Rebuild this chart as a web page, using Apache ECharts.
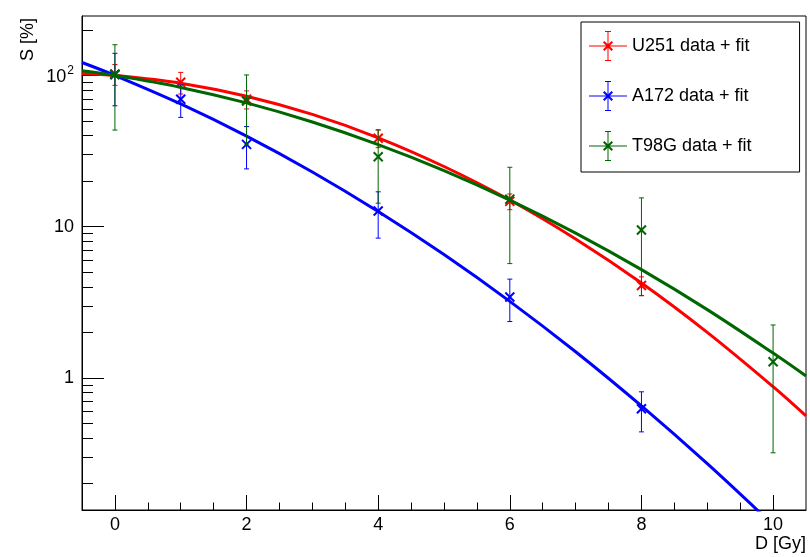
<!DOCTYPE html>
<html>
<head>
<meta charset="utf-8">
<script src="https://cdn.jsdelivr.net/npm/echarts@6/dist/echarts.min.js"></script>
<style>html,body{margin:0;padding:0;background:#fff;}#c{width:810px;height:557px;}</style>
</head>
<body>
<div id="c"></div>
<script>
// ---- axis ticks ----
const xTickLabels = [0, 2, 4, 6, 8, 10];
const xMinorTicks = [0, 0.5, 1, 1.5, 2, 2.5, 3, 3.5, 4, 4.5, 5, 5.5, 6, 6.5, 7, 7.5, 8, 8.5, 9, 9.5, 10];
const yMajorTicks = [1, 10, 100];
const yMinorTicks = [0.2, 0.3, 0.4, 0.5, 0.6, 0.7, 0.8, 0.9, 2, 3, 4, 5, 6, 7, 8, 9, 20, 30, 40, 50, 60, 70, 80, 90, 200];

// ---- data points (dose, survival %, error) ----
const u251Dose = [0, 1, 2, 4, 6, 8];
const u251S    = [102, 90, 69.5, 38.4, 14.7, 4.08];
const u251Err  = [16, 14.7, 9.5, 5.1, 1.75, 0.58];

const a172Dose = [0, 1, 2, 4, 6, 8];
const a172S    = [101.5, 69.6, 35, 12.7, 3.43, 0.625];
const a172Err  = [38.5, 16.8, 10.9, 4.3, 1.07, 0.185];

const t98gDose = [0, 2, 4, 6, 8, 10];
const t98gS    = [101.5, 67.7, 29, 15.2, 9.5, 1.28];
const t98gErr  = [58, 33, 14.7, 9.5, 6, 0.96];

// ---- fit curves ----
const fitDose = [-0.5, 0, 1, 2, 3, 4, 5, 6, 7, 8, 9, 10, 10.5];
const u251Fit = [103.1, 100, 88.8, 72.8, 55.2, 38.7, 25.0, 15.0, 8.29, 4.24, 2.00, 0.875, 0.561];
const a172Fit = [121.7, 100, 64.8, 39.7, 23.0, 12.6, 6.54, 3.21, 1.49, 0.653, 0.271, 0.1066, 0.0655];
const t98gFit = [107.4, 100, 83.3, 65.8, 49.2, 34.9, 23.5, 15.0, 9.07, 5.20, 2.83, 1.46, 1.03];

const names = ['U251 data + fit', 'A172 data + fit', 'T98G data + fit'];
const colors = ['#ff0000', '#0000ff', '#006600'];
const FONT = 'Liberation Sans, Arial, Helvetica, sans-serif';

function pts(d, s, e) { return d.map((x, i) => [x, s[i], s[i] - e[i], s[i] + e[i]]); }
function curve(d, v) { return d.map((x, i) => [x, v[i]]); }

function errRender(color) {
  return function (params, api) {
    const x = api.value(0), y = api.value(1), lo = api.value(2), hi = api.value(3);
    const p = api.coord([x, y]);
    const pl = api.coord([x, lo]);
    const ph = api.coord([x, hi]);
    const c = 2.5, m = 4.5;
    const thin = { stroke: color, lineWidth: 1 };
    const thick = { stroke: color, lineWidth: 2 };
    return {
      type: 'group',
      children: [
        { type: 'line', shape: { x1: p[0], y1: ph[1], x2: p[0], y2: pl[1] }, style: thin },
        { type: 'line', shape: { x1: p[0] - c, y1: ph[1], x2: p[0] + c, y2: ph[1] }, style: thin },
        { type: 'line', shape: { x1: p[0] - c, y1: pl[1], x2: p[0] + c, y2: pl[1] }, style: thin },
        { type: 'line', shape: { x1: p[0] - m, y1: p[1] - m, x2: p[0] + m, y2: p[1] + m }, style: thick },
        { type: 'line', shape: { x1: p[0] - m, y1: p[1] + m, x2: p[0] + m, y2: p[1] - m }, style: thick }
      ]
    };
  };
}

const legendIcon = 'path://' +
  'M0 14.5L38 14.5L38 15.5L0 15.5Z' +
  'M18.5 0L19.5 0L19.5 30L18.5 30Z' +
  'M16 0L22 0L22 1L16 1Z' +
  'M16 29L22 29L22 30L16 30Z' +
  'M14 11.4L15.4 10L24 18.6L22.6 20Z' +
  'M22.6 10L24 11.4L15.4 20L14 18.6Z';

const dataSets = [
  [u251Dose, u251S, u251Err, u251Fit],
  [a172Dose, a172S, a172Err, a172Fit],
  [t98gDose, t98gS, t98gErr, t98gFit]
];

const series = [];
dataSets.forEach((ds, i) => {
  series.push({
    type: 'custom', name: names[i], xAxisIndex: 0, yAxisIndex: 0,
    itemStyle: { color: colors[i] },
    renderItem: errRender(colors[i]),
    data: pts(ds[0], ds[1], ds[2]),
    z: 3 + i * 2
  });
  series.push({
    type: 'line', name: names[i], xAxisIndex: 0, yAxisIndex: 0,
    data: curve(fitDose, ds[3]),
    smooth: 0.35, showSymbol: false, clip: true,
    lineStyle: { color: colors[i], width: 3 },
    itemStyle: { color: colors[i] },
    z: 4 + i * 2
  });
});

function yLabel(v) {
  if (Math.abs(v - 100) < 1e-6) return '{n|10}{s|2}';
  return '{n|' + v + '}';
}

const option = {
  animation: false,
  backgroundColor: '#fff',
  grid: { left: 82, right: 4, top: 16, bottom: 47, show: true, borderColor: '#000', borderWidth: 1, backgroundColor: 'transparent' },
  xAxis: [
    {
      type: 'value', min: -0.5, max: 10.5, position: 'bottom',
      axisLine: { show: true, onZero: false, lineStyle: { color: '#000', width: 1 } },
      axisTick: { show: true, inside: true, length: 15, customValues: xTickLabels, lineStyle: { color: '#000', width: 1 } },
      axisLabel: { show: true, customValues: xTickLabels, margin: 6, color: '#000', fontSize: 18, fontFamily: FONT },
      splitLine: { show: false }
    },
    {
      type: 'value', min: -0.5, max: 10.5, position: 'bottom', gridIndex: 0,
      axisLine: { show: false, onZero: false },
      axisTick: { show: true, inside: true, length: 7.5, customValues: xMinorTicks, lineStyle: { color: '#000', width: 1 } },
      axisLabel: { show: false },
      splitLine: { show: false }
    }
  ],
  yAxis: [
    {
      type: 'log', logBase: 10, min: 0.134, max: 247, position: 'left',
      axisLine: { show: true, onZero: false, lineStyle: { color: '#000', width: 1 } },
      axisTick: { show: true, inside: true, length: 22, customValues: yMajorTicks, lineStyle: { color: '#000', width: 1 } },
      axisLabel: {
        show: true, customValues: yMajorTicks, margin: 8, color: '#000', fontSize: 18, fontFamily: FONT,
        formatter: yLabel,
        rich: {
          n: { fontSize: 18, fontFamily: FONT, color: '#000', verticalAlign: 'bottom' },
          s: { fontSize: 12, fontFamily: FONT, color: '#000', verticalAlign: 'bottom', padding: [0, 0, 9, 1] }
        }
      },
      splitLine: { show: false }
    },
    {
      type: 'log', logBase: 10, min: 0.134, max: 247, position: 'left', gridIndex: 0,
      axisLine: { show: false, onZero: false },
      axisTick: { show: true, inside: true, length: 11, customValues: yMinorTicks, lineStyle: { color: '#000', width: 1 } },
      axisLabel: { show: false },
      splitLine: { show: false }
    }
  ],
  legend: {
    orient: 'vertical', left: 581, top: 22,
    padding: [9, 48, 11, 8], itemGap: 20,
    itemWidth: 38, itemHeight: 30,
    borderColor: '#000', borderWidth: 1, backgroundColor: '#fff',
    textStyle: { color: '#000', fontSize: 18, fontFamily: FONT },
    itemStyle: { borderWidth: 0 },
    selectedMode: false,
    data: names.map(n => ({ name: n, icon: legendIcon }))
  },
  graphic: [
    { type: 'text', x: 19, y: 18, rotation: Math.PI / 2, style: { text: 'S [%]', font: '18px ' + FONT, fill: '#000', align: 'right', verticalAlign: 'top' } },
    { type: 'text', x: 806, y: 544, style: { text: 'D [Gy]', font: '18px ' + FONT, fill: '#000', align: 'right', verticalAlign: 'middle' } }
  ],
  series: series
};

const chart = echarts.init(document.getElementById('c'), null, { renderer: 'canvas' });
chart.setOption(option);
</script>
</body>
</html>
